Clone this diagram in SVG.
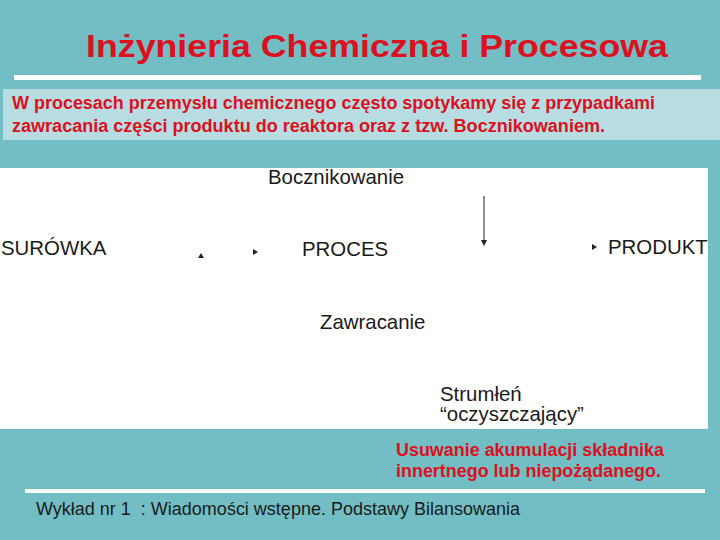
<svg xmlns="http://www.w3.org/2000/svg" width="720" height="540" viewBox="0 0 720 540">
<defs>
<style>
.t{font-family:"Liberation Sans",Arial,sans-serif;fill:#1a1a1a;font-size:20.4px}
.r{font-family:"Liberation Sans",Arial,sans-serif;fill:#dd1020;font-weight:bold;font-size:17.5px}
.c{stroke:#222;stroke-width:1;fill:none}
</style>
<marker id="ah" markerWidth="6" markerHeight="6" refX="5" refY="3" orient="auto" markerUnits="userSpaceOnUse">
<path d="M0,0 L6,3 L0,6 Z" fill="#222"/>
</marker>
</defs>
<rect width="720" height="540" fill="#72bec4"/>
<text class="r" x="86" y="57" style="font-size:32px" textLength="582" lengthAdjust="spacingAndGlyphs">Inżynieria Chemiczna i Procesowa</text>
<rect x="14" y="75" width="687" height="5" fill="#ffffff"/>
<rect x="3" y="89" width="717" height="51" fill="#b7dde3"/>
<text class="r" x="12" y="109" textLength="643" lengthAdjust="spacingAndGlyphs">W procesach przemysłu chemicznego często spotykamy się z przypadkami</text>
<text class="r" x="12" y="132" textLength="593" lengthAdjust="spacingAndGlyphs">zawracania części produktu do reaktora oraz z tzw. Bocznikowaniem.</text>
<rect x="0" y="168" width="708" height="261" fill="#ffffff"/>
<g id="bocznikowanie"><text class="t" x="268" y="184">Bocznikowanie</text></g>
<g id="surowka"><text class="t" x="1" y="255">SURÓWKA</text></g>
<g id="proces"><text class="t" x="302" y="256">PROCES</text></g>
<g id="produkt"><text class="t" x="608" y="254">PRODUKT</text></g>
<g id="zawracanie"><text class="t" x="320" y="329">Zawracanie</text></g>
<g id="strumien"><text class="t" x="440" y="401">Strumłeń</text><text class="t" x="440" y="421">“oczyszczający”</text></g>
<g id="connectors">
<path class="c" d="M484,196 L484,245" marker-end="url(#ah)"/>
<path d="M198,258 L201,253 L204,258 Z" fill="#222"/>
<path d="M253,249 L258,252 L253,255 Z" fill="#222"/>
<path d="M592,244 L597,247 L592,250 Z" fill="#222"/>
</g>
<text class="r" x="396" y="456" textLength="268" lengthAdjust="spacingAndGlyphs">Usuwanie akumulacji składnika</text>
<text class="r" x="396" y="477" textLength="265" lengthAdjust="spacingAndGlyphs">innertnego lub niepożądanego.</text>
<rect x="25" y="489" width="680" height="4" fill="#ffffff"/>
<text class="t" x="36" y="515" style="font-size:17.5px;white-space:pre" textLength="484" lengthAdjust="spacingAndGlyphs">Wykład nr 1  : Wiadomości wstępne. Podstawy Bilansowania</text>
</svg>
